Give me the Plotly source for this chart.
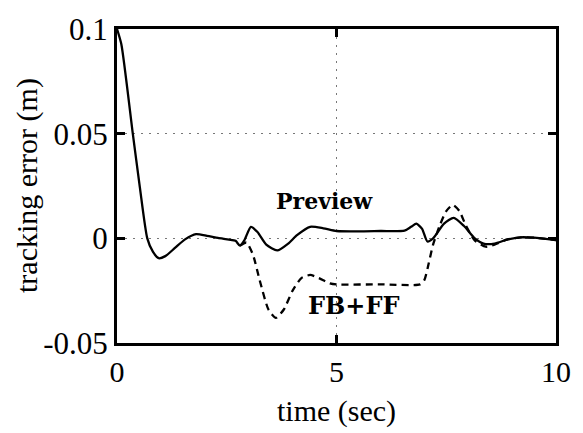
import plotly.graph_objects as go

# Preview controller tracking error (solid)
t_preview = [0.0, 0.10, 0.36, 0.52, 0.69, 0.82, 0.95, 1.10, 1.32, 1.55, 1.80, 2.05, 2.30, 2.55,
             2.70, 2.80, 2.90, 3.05, 3.20, 3.40, 3.65, 3.90, 4.10, 4.40, 4.70, 5.00, 5.50,
             6.00, 6.55, 6.70, 6.82, 6.95, 7.07, 7.20, 7.45, 7.67, 7.90, 8.15, 8.35, 8.60,
             8.90, 9.20, 9.50, 10.0]
e_preview = [0.100, 0.0926, 0.050, 0.0245, 0.0, -0.0065, -0.0095, -0.0085, -0.0046, -0.0005, 0.0020,
             0.0012, 0.0002, -0.0006, -0.0012, -0.0035, -0.0010, 0.0055, 0.0030, -0.0030,
             -0.0058, -0.0025, 0.0015, 0.0055, 0.0048, 0.0035, 0.0033, 0.0035, 0.0037, 0.0055,
             0.0070, 0.0045, -0.0015, 0.0000, 0.0070, 0.0098, 0.0060, 0.0000, -0.0025, -0.0025,
             -0.0005, 0.0005, 0.0003, -0.0008]

# FB+FF controller tracking error (dashed), where it departs from the preview curve
t_fbff = [2.80, 2.95, 3.10, 3.25, 3.45, 3.62, 3.80, 4.00, 4.20, 4.40, 4.60, 4.85, 5.00, 6.00,
          6.90, 7.00, 7.10, 7.20, 7.35, 7.50, 7.65, 7.80, 7.95, 8.15, 8.40, 8.60, 8.90, 9.20,
          9.50, 10.0]
e_fbff = [-0.0035, -0.0020, -0.0080, -0.0200, -0.0340, -0.0380, -0.0340, -0.0250, -0.0190,
          -0.0175, -0.0190, -0.0215, -0.0220, -0.0220, -0.0220, -0.0200, -0.0120, -0.0030,
          0.0060, 0.0130, 0.0160, 0.0130, 0.0060, -0.0010, -0.0040, -0.0030, -0.0005, 0.0005,
          0.0003, -0.0008]

x_ticks = [0, 5, 10]
x_tick_labels = ["0", "5", "10"]
y_ticks = [-0.05, 0, 0.05, 0.1]
y_tick_labels = ["-0.05", "0", "0.05", "0.1"]

FONT = "Liberation Serif, Times New Roman, serif"
LABEL_FONT = "DejaVu Serif, serif"

fig = go.Figure()
fig.add_trace(go.Scatter(x=t_preview, y=e_preview, mode="lines", name="Preview",
                         line=dict(color="black", width=2.3, shape="spline", smoothing=0.6)))
fig.add_trace(go.Scatter(x=t_fbff, y=e_fbff, mode="lines", name="FB+FF",
                         line=dict(color="black", width=2.3, dash="7px,5px",
                                   shape="spline", smoothing=0.6)))

axis_common = dict(showline=True, linecolor="black", linewidth=3, mirror="ticks",
                   ticks="inside", ticklen=8, tickwidth=2.5, tickcolor="black",
                   showgrid=True, gridcolor="#777777", griddash="2px,6px", gridwidth=1,
                   zeroline=False)

fig.update_xaxes(range=[0, 10], tickvals=x_ticks, ticktext=x_tick_labels,
                 tickfont=dict(family=FONT, size=30, color="black"), **axis_common)
fig.update_yaxes(range=[-0.05, 0.1], tickvals=y_ticks, ticktext=y_tick_labels,
                 ticklabelstandoff=0,
                 tickfont=dict(family=FONT, size=31, color="black"), **axis_common)

fig.add_annotation(text="<b>Preview</b>", x=4.72, y=0.018, xref="x", yref="y", showarrow=False,
                   font=dict(family=LABEL_FONT, size=22, color="black"))
fig.add_annotation(text="<b>FB+FF</b>", x=5.39, y=-0.032, xref="x", yref="y", showarrow=False,
                   font=dict(family=LABEL_FONT, size=24, color="black"))
fig.add_annotation(text="time (sec)", x=0.5, y=-0.215, xref="paper", yref="paper",
                   showarrow=False, yanchor="middle",
                   font=dict(family=FONT, size=30, color="black"))
fig.add_annotation(text="tracking error (m)", x=-0.205, y=0.5, xref="paper", yref="paper",
                   showarrow=False, textangle=-90, xanchor="center", yanchor="middle",
                   font=dict(family=FONT, size=30, color="black"))

fig.update_layout(width=583, height=433, showlegend=False,
                  margin=dict(l=117, r=15, t=21, b=90),
                  plot_bgcolor="white", paper_bgcolor="white")

fig.write_html("out.html", config={"displayModeBar": False},
               post_script="document.body.style.margin='0';document.body.style.overflow='hidden';")
